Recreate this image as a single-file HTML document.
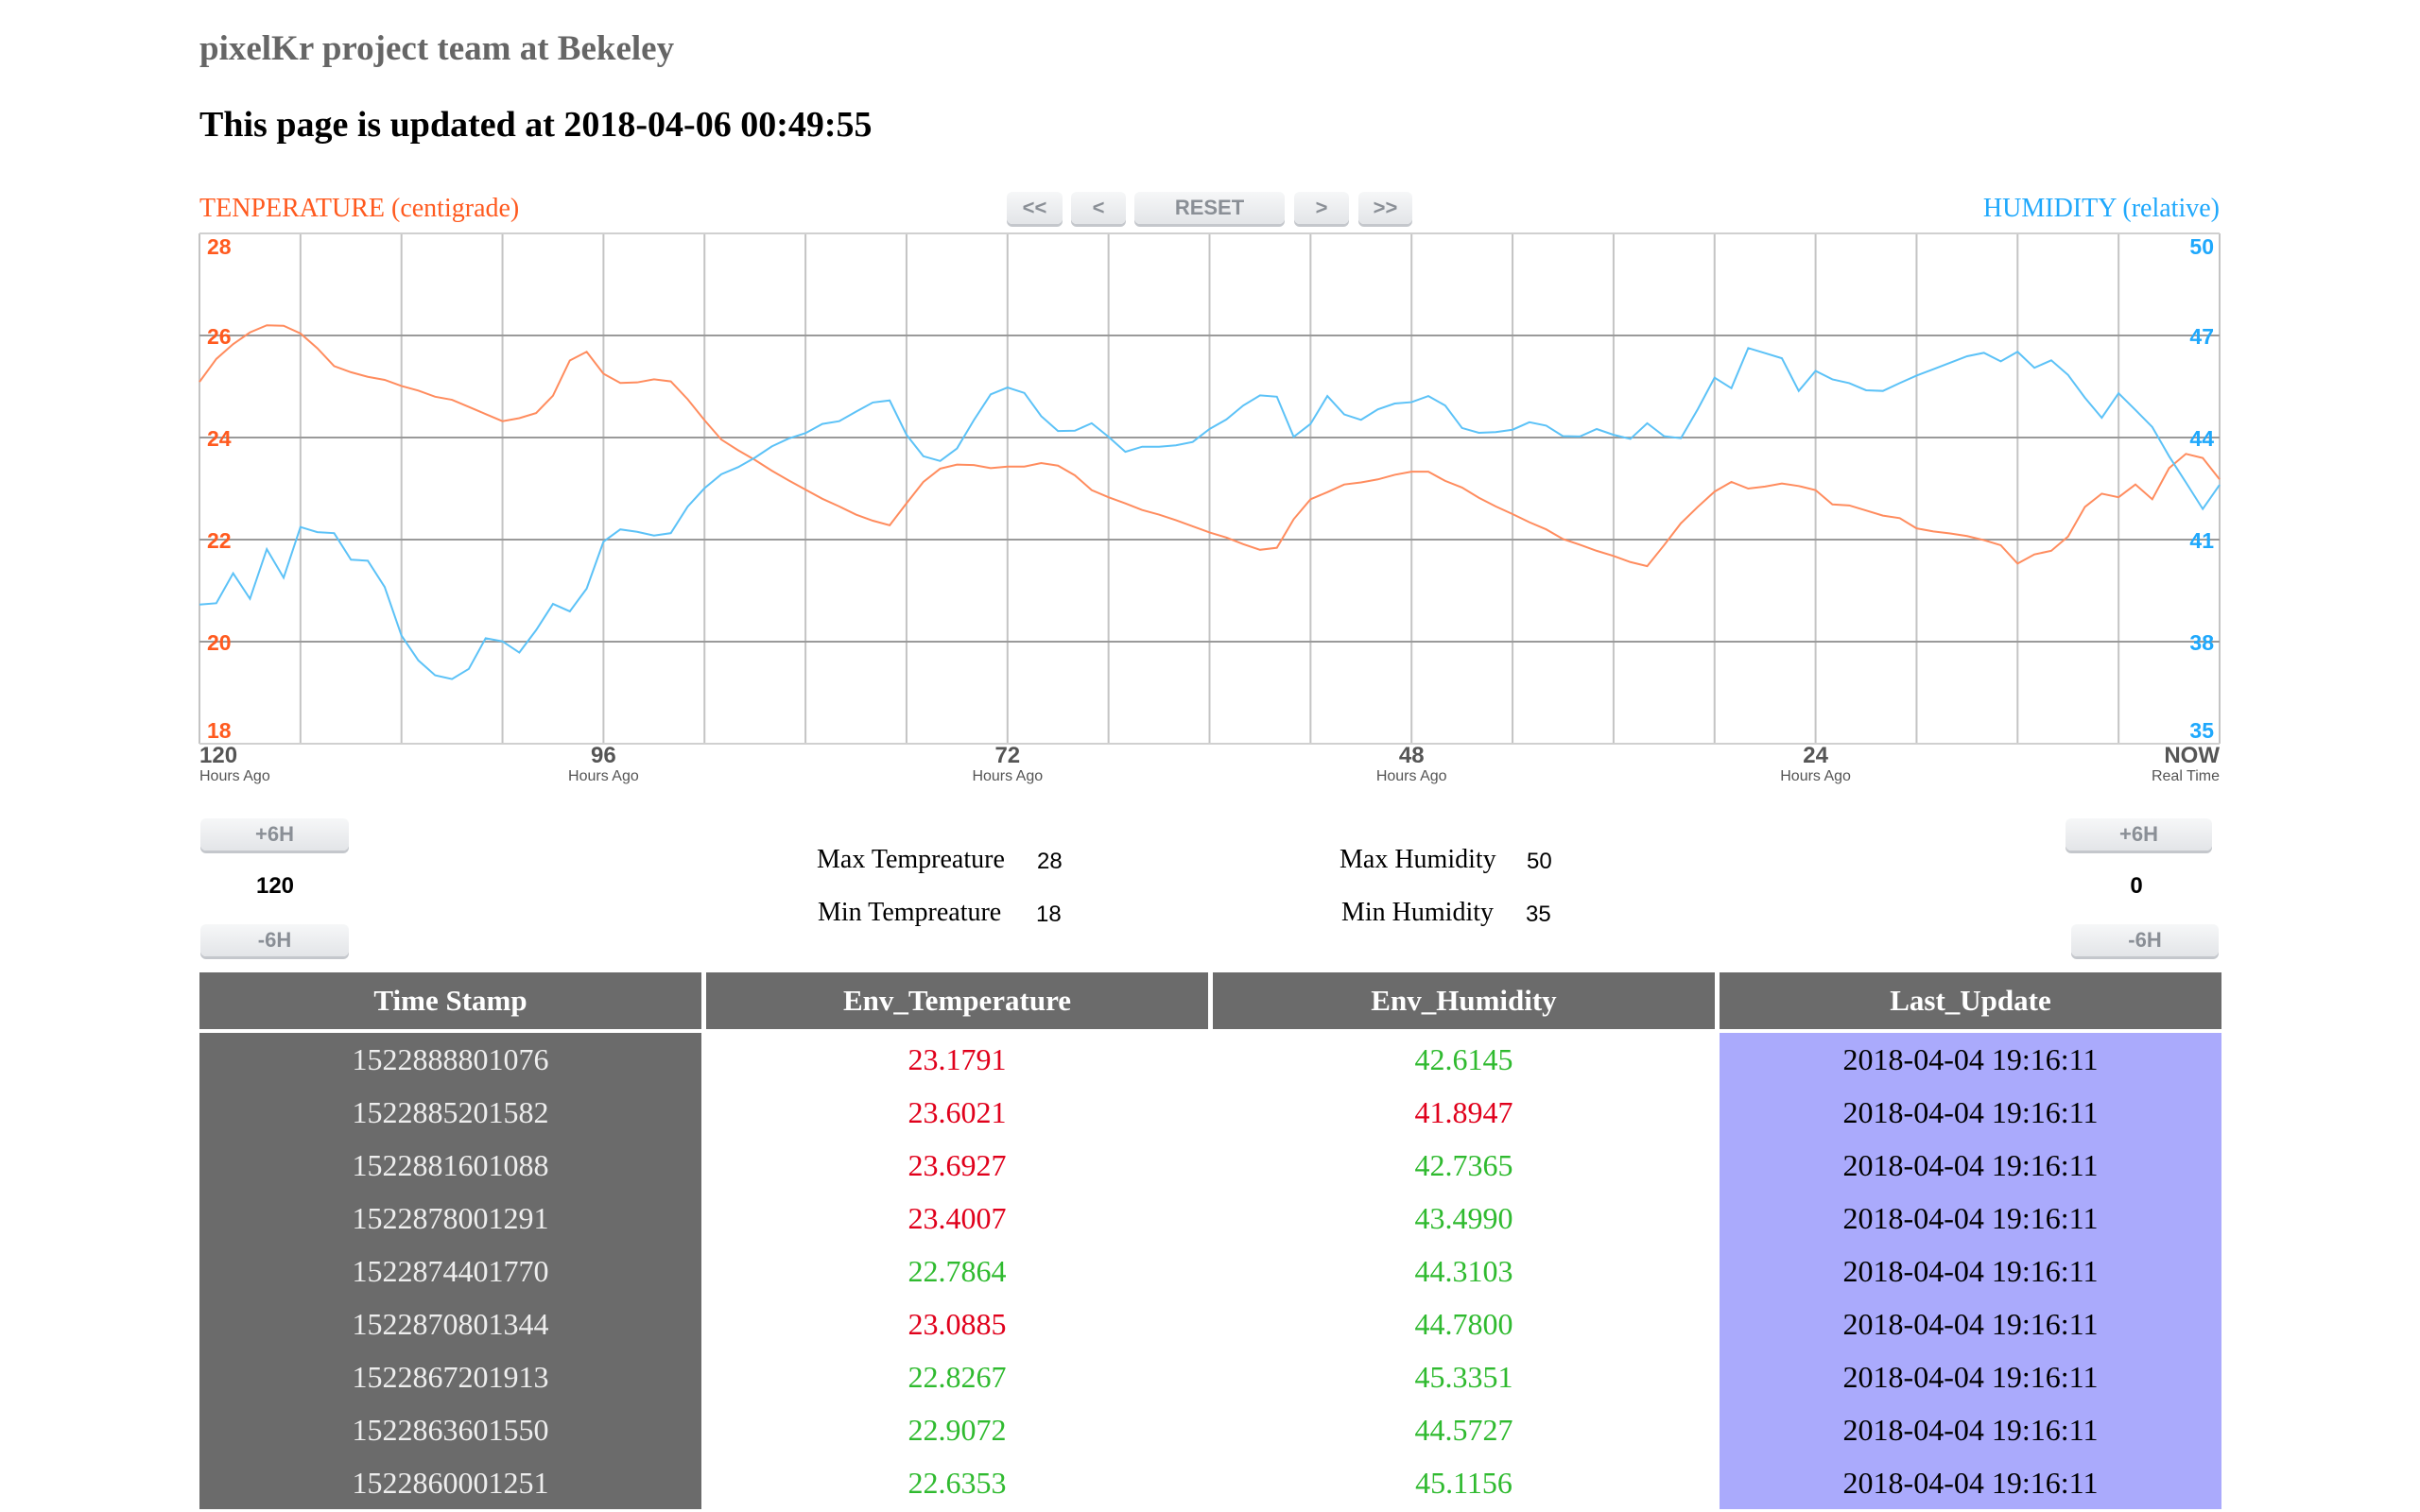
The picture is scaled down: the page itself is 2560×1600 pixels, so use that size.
<!DOCTYPE html>
<html style="height:1600px;overflow:hidden"><head><meta charset="utf-8">
<style>
body{margin:0;width:2560px;height:1600px;overflow:hidden;background:#fff;position:relative;font-family:"Liberation Serif",serif}
.abs{position:absolute}
.btn{position:absolute;background:linear-gradient(#f6f7f8,#e3e5e8);border-radius:6px;box-shadow:0 3px 0 #c4c7cc;color:#8a8f96;font-family:"Liberation Sans",sans-serif;font-weight:bold;font-size:22px;text-align:center;line-height:34px;height:34px}
.stat{position:absolute;font-size:28px;color:#000}
.statv{position:absolute;font-family:"Liberation Sans",sans-serif;font-size:24px;color:#000}
#tablewrap{position:absolute;left:0;top:0;width:2560px;height:1600px;overflow:hidden}
table{position:absolute;left:206px;top:1029px;border-collapse:separate;border-spacing:5px 0}
td,th{width:531px;padding:0;text-align:center;font-size:32px}
th{background:#6b6b6b;color:#fff;height:60px;font-weight:bold;font-size:31px}
tr.sp td{height:4px;line-height:0;font-size:0}
td{height:56px;line-height:56px}
td.ts{background:#6b6b6b;color:#eee}
td.lu{background:#aaaafc;color:#000}
.r{color:#e0001b}.g{color:#2fba2f}
</style></head><body>
<div class="abs" style="left:211px;top:30px;font-size:37px;font-weight:bold;color:#666">pixelKr project team at Bekeley</div>
<div class="abs" style="left:211px;top:110px;font-size:38px;font-weight:bold;color:#000">This page is updated at 2018-04-06 00:49:55</div>
<div class="abs" style="left:211px;top:205px;font-size:28px;color:#ff5a1f">TENPERATURE (centigrade)</div>
<div class="abs" style="right:212px;top:205px;font-size:28px;color:#1fa8fc">HUMIDITY (relative)</div>
<div class="btn" style="left:1065px;top:203px;width:59px">&lt;&lt;</div>
<div class="btn" style="left:1133px;top:203px;width:58px">&lt;</div>
<div class="btn" style="left:1200px;top:203px;width:159px">RESET</div>
<div class="btn" style="left:1369px;top:203px;width:58px">&gt;</div>
<div class="btn" style="left:1437px;top:203px;width:57px">&gt;&gt;</div>

<svg id="chart" class="abs" style="left:0;top:0" width="2560" height="840"></svg>

<div class="btn" style="left:212px;top:866px;width:157px">+6H</div>
<div class="abs" style="left:241px;top:924px;width:100px;text-align:center;font-family:'Liberation Sans',sans-serif;font-weight:bold;font-size:24px">120</div>
<div class="btn" style="left:212px;top:978px;width:157px">-6H</div>
<div class="btn" style="left:2185px;top:866px;width:155px">+6H</div>
<div class="abs" style="left:2210px;top:924px;width:100px;text-align:center;font-family:'Liberation Sans',sans-serif;font-weight:bold;font-size:24px">0</div>
<div class="btn" style="left:2191px;top:978px;width:156px">-6H</div>

<div class="stat" style="left:864px;top:894px">Max Tempreature</div>
<div class="statv" style="left:1097px;top:898px">28</div>
<div class="stat" style="left:865px;top:950px">Min Tempreature</div>
<div class="statv" style="left:1096px;top:954px">18</div>
<div class="stat" style="left:1417px;top:894px">Max Humidity</div>
<div class="statv" style="left:1615px;top:898px">50</div>
<div class="stat" style="left:1419px;top:950px">Min Humidity</div>
<div class="statv" style="left:1614px;top:954px">35</div>

<div id="tablewrap">
<table>
<tr><th>Time Stamp</th><th>Env_Temperature</th><th>Env_Humidity</th><th>Last_Update</th></tr>
<tr class="sp"><td></td><td></td><td></td><td></td></tr>
<tr><td class="ts">1522888801076</td><td class="r">23.1791</td><td class="g">42.6145</td><td class="lu">2018-04-04 19:16:11</td></tr>
<tr><td class="ts">1522885201582</td><td class="r">23.6021</td><td class="r">41.8947</td><td class="lu">2018-04-04 19:16:11</td></tr>
<tr><td class="ts">1522881601088</td><td class="r">23.6927</td><td class="g">42.7365</td><td class="lu">2018-04-04 19:16:11</td></tr>
<tr><td class="ts">1522878001291</td><td class="r">23.4007</td><td class="g">43.4990</td><td class="lu">2018-04-04 19:16:11</td></tr>
<tr><td class="ts">1522874401770</td><td class="g">22.7864</td><td class="g">44.3103</td><td class="lu">2018-04-04 19:16:11</td></tr>
<tr><td class="ts">1522870801344</td><td class="r">23.0885</td><td class="g">44.7800</td><td class="lu">2018-04-04 19:16:11</td></tr>
<tr><td class="ts">1522867201913</td><td class="g">22.8267</td><td class="g">45.3351</td><td class="lu">2018-04-04 19:16:11</td></tr>
<tr><td class="ts">1522863601550</td><td class="g">22.9072</td><td class="g">44.5727</td><td class="lu">2018-04-04 19:16:11</td></tr>
<tr><td class="ts">1522860001251</td><td class="g">22.6353</td><td class="g">45.1156</td><td class="lu">2018-04-04 19:16:11</td></tr>
</table>
</div>

<script>
const temperature = [25.09,25.54,25.83,26.06,26.2,26.19,26.04,25.75,25.4,25.28,25.19,25.13,25.01,24.92,24.8,24.74,24.6,24.46,24.32,24.38,24.48,24.82,25.51,25.68,25.25,25.07,25.08,25.14,25.1,24.75,24.34,23.96,23.75,23.56,23.35,23.16,22.98,22.8,22.65,22.49,22.37,22.28,22.71,23.13,23.39,23.47,23.46,23.4,23.43,23.43,23.5,23.45,23.26,22.97,22.83,22.71,22.58,22.49,22.38,22.26,22.14,22.04,21.91,21.8,21.84,22.4,22.79,22.93,23.08,23.12,23.18,23.27,23.33,23.33,23.15,23.02,22.82,22.65,22.5,22.34,22.2,22.01,21.9,21.78,21.68,21.56,21.48,21.89,22.32,22.64,22.94,23.13,23.0,23.04,23.1,23.05,22.97,22.69,22.67,22.57,22.47,22.42,22.22,22.16,22.12,22.07,21.99,21.89,21.53,21.71,21.78,22.06,22.64,22.9,22.83,23.08,22.79,23.4,23.68,23.6,23.18];
const humidity = [39.09,39.13,40.01,39.26,40.72,39.88,41.37,41.22,41.19,40.41,40.38,39.61,38.18,37.45,37.01,36.9,37.2,38.1,38.01,37.68,38.34,39.11,38.89,39.56,40.94,41.3,41.23,41.12,41.19,41.97,42.51,42.92,43.13,43.41,43.74,43.97,44.13,44.4,44.48,44.76,45.03,45.09,44.08,43.45,43.31,43.68,44.51,45.27,45.47,45.31,44.63,44.19,44.2,44.42,44.02,43.58,43.73,43.73,43.77,43.87,44.25,44.53,44.94,45.24,45.2,44.02,44.4,45.22,44.68,44.52,44.83,45.0,45.04,45.22,44.94,44.28,44.14,44.16,44.23,44.45,44.35,44.04,44.03,44.25,44.08,43.96,44.42,44.04,43.98,44.83,45.76,45.45,46.63,46.48,46.33,45.37,45.96,45.71,45.6,45.39,45.37,45.6,45.82,46.01,46.2,46.39,46.49,46.24,46.52,46.05,46.27,45.84,45.17,44.58,45.3,44.81,44.31,43.45,42.68,41.9,42.61];
const tempTicks = [18,20,22,24,26,28];
const humTicks = [35,38,41,44,47,50];
const xTickHours = [120,96,72,48,24,0];
const xTickMain = ["120","96","72","48","24","NOW"];
const xTickSub = ["Hours Ago","Hours Ago","Hours Ago","Hours Ago","Hours Ago","Real Time"];

const L=211,R=2348,T=247,B=787,NS="http://www.w3.org/2000/svg";
const svg=document.getElementById('chart');
const xH=h=>R-(h/120)*(R-L);
const yT=v=>B-(v-18)/10*(B-T);
const yH=v=>B-(v-35)/15*(B-T);
function mk(tag,at){const e=document.createElementNS(NS,tag);for(const k in at)e.setAttribute(k,at[k]);svg.appendChild(e);return e;}
for(let h=0;h<=120;h+=6){
  const l=mk('line',{x1:xH(h),x2:xH(h),y1:T,y2:B,stroke:'#c4c4c4','stroke-width':2});
  
  
}
tempTicks.forEach((t,i)=>{
  const g=mk('line',{x1:L,x2:R,y1:yT(t),y2:yT(t),stroke:(i==0||i==tempTicks.length-1)?'#d0d0d0':'#9a9a9a','stroke-width':2});
  
  
  const lab=mk('text',{x:L+8,y:yT(t)+(i==0?-6:i==tempTicks.length-1?22:9),fill:'#ff5a1f','font-family':'Liberation Sans, sans-serif','font-weight':'bold','font-size':23});
  lab.textContent=t;
  
  
});
humTicks.forEach((t,i)=>{
  const lab=mk('text',{x:R-6,y:yH(t)+(i==0?-6:i==humTicks.length-1?22:9),fill:'#1fa8fc','text-anchor':'end','font-family':'Liberation Sans, sans-serif','font-weight':'bold','font-size':23});
  lab.textContent=t;
  
  
});
xTickHours.forEach((h,i)=>{
  const anchor=i==0?'start':(i==xTickHours.length-1?'end':'middle');
  const a=mk('text',{x:xH(h),y:807,'text-anchor':anchor,fill:'#555','font-family':'Liberation Sans, sans-serif','font-weight':'bold','font-size':24});
  a.textContent=xTickMain[i];
  
  
  const b=mk('text',{x:xH(h),y:826,'text-anchor':anchor,fill:'#555','font-family':'Liberation Sans, sans-serif','font-size':16});
  b.textContent=xTickSub[i];
  
  
});
const n=temperature.length;
const tp=mk('polyline',{points:temperature.map((v,i)=>xH(120-i*120/(n-1))+','+yT(v)).join(' '),fill:'none',stroke:'#ff8c5e','stroke-width':2});


const m=humidity.length;
const hp=mk('polyline',{points:humidity.map((v,i)=>xH(120-i*120/(m-1))+','+yH(v)).join(' '),fill:'none',stroke:'#5cc2f7','stroke-width':2});


</script>
</body></html>
